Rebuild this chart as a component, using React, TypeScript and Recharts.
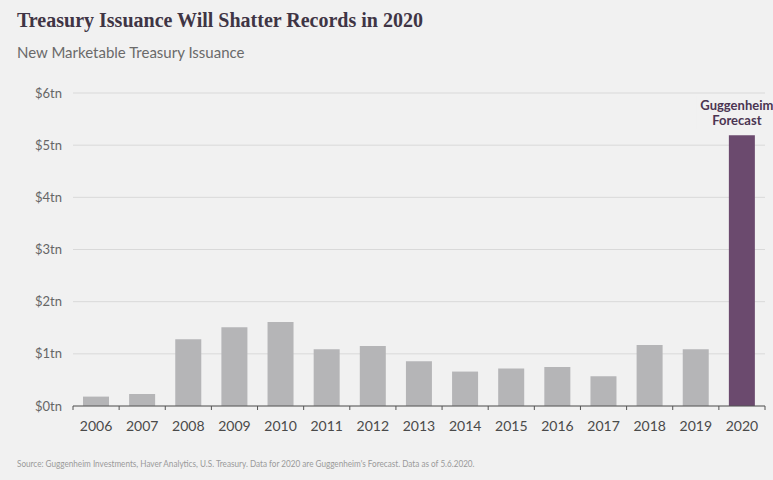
import { BarChart, Bar, XAxis, YAxis, CartesianGrid, Cell, LabelList } from 'recharts';

const years = ['2006', '2007', '2008', '2009', '2010', '2011', '2012', '2013', '2014', '2015', '2016', '2017', '2018', '2019', '2020'];
// trillions of dollars, 2020 is the forecast
const issuance = [0.18, 0.23, 1.28, 1.51, 1.61, 1.09, 1.15, 0.86, 0.66, 0.72, 0.75, 0.57, 1.17, 1.09, 5.19];
const yTicks = [0, 1, 2, 3, 4, 5, 6];
const forecastYear = '2020';
const forecastLabel = ['Guggenheim', 'Forecast'];

const data = years.map((year, i) => ({ year, value: issuance[i] }));

const W = 773;
const H = 480;
const BG = '#f1f1f1';
const margin = { top: 93, right: 8, bottom: 44, left: 0 };
const Y_AXIS_W = 73;
const band = (W - margin.left - margin.right - Y_AXIS_W) / years.length;

const YearTick = (props: any) => {
  const { x, y, payload, index } = props;
  const isLast = index === years.length - 1;
  return (
    <g>
      <line x1={x - band / 2} x2={x - band / 2} y1={y} y2={y + 4} stroke="#555" />
      {isLast && <line x1={x + band / 2} x2={x + band / 2} y1={y} y2={y + 4} stroke="#555" />}
      <text x={x} y={y + 25} textAnchor="middle" fill="#4a4a4a" fontSize={14} fontFamily="Lato">
        {payload.value}
      </text>
    </g>
  );
};

// "Guggenheim Forecast" above the last bar
const ForecastLabel = (props: any) => {
  const { x, y, width, index } = props;
  if (data[index]?.year !== forecastYear) return null;
  const cx = x + width / 2 - 5;
  return (
    <g>
      <rect x={cx - 40} y={y - 40} width={80} height={34} fill={BG} />
      <text x={cx} y={y - 25} textAnchor="middle" fill="#4b3552" fontSize={13} fontWeight={700} fontFamily="Lato">
        {forecastLabel[0]}
      </text>
      <text x={cx} y={y - 10} textAnchor="middle" fill="#4b3552" fontSize={13} fontWeight={700} fontFamily="Lato">
        {forecastLabel[1]}
      </text>
    </g>
  );
};

export default function App() {
  return (
    <div style={{ position: 'absolute', left: 0, top: 0, width: W, height: H, background: BG, overflow: 'hidden' }}>
      <div style={{ position: 'absolute', left: 17, top: 9, fontFamily: 'Liberation Serif', fontWeight: 700, fontSize: 20, color: '#3f3545', whiteSpace: 'nowrap' }}>
        Treasury Issuance Will Shatter Records in 2020
      </div>
      <div style={{ position: 'absolute', left: 17, top: 43, fontFamily: 'Lato', fontSize: 15, color: '#6a6a6a', whiteSpace: 'nowrap' }}>
        New Marketable Treasury Issuance
      </div>
      <BarChart width={W} height={H} data={data} margin={margin} barCategoryGap={10} style={{ position: 'absolute', left: 0, top: 0 }}>
        <CartesianGrid vertical={false} stroke="#d9d9d9" />
        <YAxis
          width={Y_AXIS_W}
          domain={[0, 6]}
          ticks={yTicks}
          tickFormatter={v => `$${v}tn`}
          axisLine={false}
          tickLine={false}
          tickMargin={5}
          tick={{ fill: '#666', fontSize: 13, fontFamily: 'Lato' }}
        />
        <XAxis
          dataKey="year"
          height={30}
          interval={0}
          tickLine={false}
          tickSize={0}
          tickMargin={0}
          axisLine={{ stroke: '#555' }}
          tick={<YearTick />}
        />
        <Bar dataKey="value" barSize={26} isAnimationActive={false}>
          {data.map(d => (
            <Cell key={d.year} fill={d.year === forecastYear ? '#6b4a6e' : '#b5b5b7'} />
          ))}
          <LabelList dataKey="value" content={<ForecastLabel />} />
        </Bar>
      </BarChart>
      <div style={{ position: 'absolute', left: 17, top: 457, fontFamily: 'Lato', fontSize: 10, color: '#9a9a9a', whiteSpace: 'nowrap', transform: 'scaleX(0.815)', transformOrigin: 'left top' }}>
        Source: Guggenheim Investments, Haver Analytics, U.S. Treasury. Data for 2020 are Guggenheim's Forecast. Data as of 5.6.2020.
      </div>
    </div>
  );
}
